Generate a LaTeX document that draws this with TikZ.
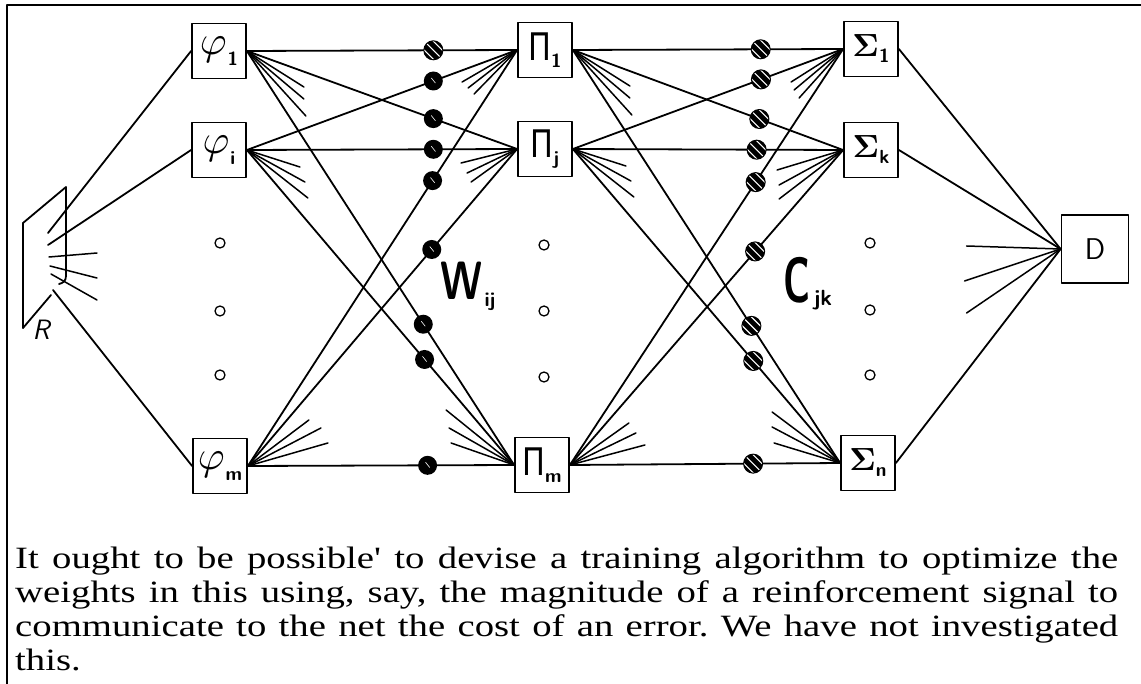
\documentclass[tikz,border=0pt]{standalone}
\usepackage{amsmath}
\usepackage{fontspec}
\usepackage{graphicx}
\usetikzlibrary{calc}
\newfontfamily\capfont[FakeStretch=1.25]{Liberation Serif}
\newfontfamily\grk{DejaVu Sans}
\newcommand\sub[2]{\raisebox{#1}{\sffamily\bfseries\fontsize{19}{19}\selectfont #2}}
\newcommand\PiL[1]{{\grk\fontsize{38}{38}\selectfont\scalebox{0.8}[1]{Π}}\sub{-7pt}{#1}}
\newcommand\PhiL[1]{\scalebox{4.1}{$\varphi$}\hspace{1pt}\sub{-11pt}{#1}}
\newcommand\SigL[1]{\scalebox{3.2}{$\boldsymbol{\Sigma}$}\sub{-6pt}{#1}}
\newcommand\fanat[5]{%
  \draw[fan] (#1) -- ++#3 coordinate (#2a);
  \draw[fan] (#1) -- ++#4 coordinate (#2b);
  \draw[fan] (#1) -- ++#5 coordinate (#2c);}
\begin{document}
\begin{tikzpicture}[x=1pt,y=-1pt, line join=round, line cap=round,
  con/.style={line width=1.8pt},
  fan/.style={line width=1.5pt},
  box/.style={draw,line width=1.8pt,minimum width=54pt,minimum height=55pt,inner sep=0pt},
  odot/.style={circle,draw,line width=1.3pt,minimum size=10pt,inner sep=0pt},
  bdot/.style={circle,fill=black,minimum size=19pt,inner sep=0pt,
     path picture={\draw[white,line width=0.6pt] ($(path picture bounding box.center)+(-2,-3)$) -- ++(4,5);}},
  hdot/.style={circle,fill=black,draw=black,line width=1pt,minimum size=19pt,inner sep=0pt,
     path picture={\foreach \k in {-4.5,0,4.5}{\draw[white,line width=1.1pt] ($(path picture bounding box.center)+(\k,-\k)+(-9,-9)$) -- ++(18,18);}}},
]
\useasboundingbox (0,0) rectangle (1141,684);
% frame
\draw[line width=1.8pt] (7,684) -- (7,5) -- (1141,5);

% boxes
\node[box] (phi1) at (219,51) {\PhiL{1}};
\node[box] (phii) at (219,150) {\PhiL{i}};
\node[box] (phim) at (220,466) {\PhiL{m}};
\node[box] (pi1) at (545,50) {\PiL{1}};
\node[box] (pij) at (545,149) {\PiL{j}};
\node[box] (pim) at (542,465) {\PiL{m}};
\node[box] (s1) at (871,49) {\SigL{1}};
\node[box] (sk) at (871,150) {\SigL{k}};
\node[box] (sn) at (868,463) {\SigL{n}};
\node[box,minimum width=67pt,minimum height=68pt,font=\sffamily\fontsize{30}{30}\selectfont] (D) at (1095,249) {D};

% retina
\draw[con] (23,328) -- (23,223) -- (66,187) -- (66,276) .. controls (66,281) and (63,283) .. (59,284);
\draw[con] (23,328) -- (51,295);
\coordinate (r1) at (48,233);
\coordinate (r2) at (48,245);
\coordinate (r3) at (53,290);
\draw[con] (phi1.west) -- (r1);
\draw[con] (phii.west) -- (r2);
\draw[con] (phim.west) -- (r3);
\draw[fan] (49,257) -- (97,253);
\draw[fan] (50,266) -- (97,278);
\draw[fan] (51,274) -- (97,300);
\node[font=\sffamily\slshape\fontsize{28}{28}\selectfont] (Rlab) at (41,330) {R};

% open dots
\foreach \x/\ya/\yb/\yc/\n in {220/243/311/375/a,544/245/311/377/b,870/243/310/375/c}{
  \node[odot] (o\n1) at (\x,\ya) {};
  \node[odot] (o\n2) at (\x,\yb) {};
  \node[odot] (o\n3) at (\x,\yc) {};
}

% layer 2 and 3 connectors
\foreach \a/\b in {phi1/pi1,phii/pi1,phim/pi1,phi1/pij,phii/pij,phim/pij,phi1/pim,phii/pim,phim/pim,
                   pi1/s1,pij/s1,pim/s1,pi1/sk,pij/sk,pim/sk,pi1/sn,pij/sn,pim/sn}{
  \draw[con] (\a.east) -- (\b.west);
}
% layer 4
\draw[con] (s1.east) -- (D.west);
\draw[con] (sk.east) -- (D.west);
\draw[con] (sn.east) -- (D.west);

% fans
\fanat{phi1.east}{fp1}{(57,36)}{(57,48)}{(59,65)}
\fanat{phii.east}{fpi}{(53,17)}{(58,32)}{(61,48)}
\fanat{phim.east}{fpm}{(80,-23)}{(73,-38)}{(61,-46)}
\fanat{pi1.west}{gp1}{(-55,32)}{(-49,38)}{(-43,44)}
\fanat{pij.west}{gpj}{(-56,14)}{(-50,24)}{(-46,33)}
\fanat{pim.west}{gpm}{(-68,-55)}{(-65,-37)}{(-63,-22)}
\fanat{pi1.east}{fq1}{(57,36)}{(57,48)}{(59,65)}
\fanat{pij.east}{fqj}{(53,17)}{(58,32)}{(61,48)}
\fanat{pim.east}{fqm}{(75,-20)}{(66,-32)}{(59,-42)}
\fanat{s1.west}{gs1}{(-52,33)}{(-49,41)}{(-44,49)}
\fanat{sk.west}{gsk}{(-66,20)}{(-64,35)}{(-64,49)}
\fanat{sn.west}{gsn}{(-68,-51)}{(-68,-36)}{(-66,-20)}
\fanat{D.west}{fD}{(-94,-3)}{(-96,32)}{(-94,64)}

% weight dots
\path (phi1.east) -- node[hdot,pos=0.69] (w11) {} (pi1.west);
\foreach \a/\b/\t/\nm in {phii/pi1/0.69/wi1,phim/pi1/0.686/wm1,phi1/pij/0.69/w1j,phii/pij/0.69/wij,
    phim/pij/0.683/wmj,phi1/pim/0.66/w1m,phii/pim/0.665/wim,phim/pim/0.675/wmm}{
  \path (\a.east) -- node[bdot,pos=\t] (\nm) {} (\b.west);
}
\foreach \a/\b/\t/\nm in {pi1/s1/0.695/c11,pij/s1/0.696/cj1,pim/s1/0.68/cm1,pi1/sk/0.69/c1k,pij/sk/0.68/cjk,
    pim/sk/0.678/cmk,pi1/sn/0.668/c1n,pij/sn/0.675/cjn,pim/sn/0.678/cmn}{
  \path (\a.east) -- node[hdot,pos=\t] (\nm) {} (\b.west);
}

% labels
\node[font=\sffamily\bfseries\fontsize{54}{54}\selectfont,inner sep=0pt] (W) at (462,281) {\scalebox{0.75}[1]{W}};
\node[font=\sffamily\bfseries\fontsize{20}{20}\selectfont,inner sep=0pt] (Wsub) at (490,302) {ij};
\node[font=\sffamily\bfseries\fontsize{64}{64}\selectfont,inner sep=0pt] (C) at (797,280) {\scalebox{0.6}[1]{C}};
\node[font=\sffamily\bfseries\fontsize{22}{22}\selectfont,inner sep=0pt] (Csub) at (823,300) {jk};

% caption
\node[anchor=north west,inner sep=0pt,align=left,font=\capfont\fontsize{31}{34}\selectfont\frenchspacing] (cap) at (15,547)
{\makebox[1103pt][s]{It ought to be possible' to devise a training algorithm to optimize the}\\
 \makebox[1103pt][s]{weights in this using, say, the magnitude of a reinforcement signal to}\\
 \makebox[1103pt][s]{communicate to the net the cost of an error. We have not investigated}\\
 this.};
\end{tikzpicture}
\end{document}
